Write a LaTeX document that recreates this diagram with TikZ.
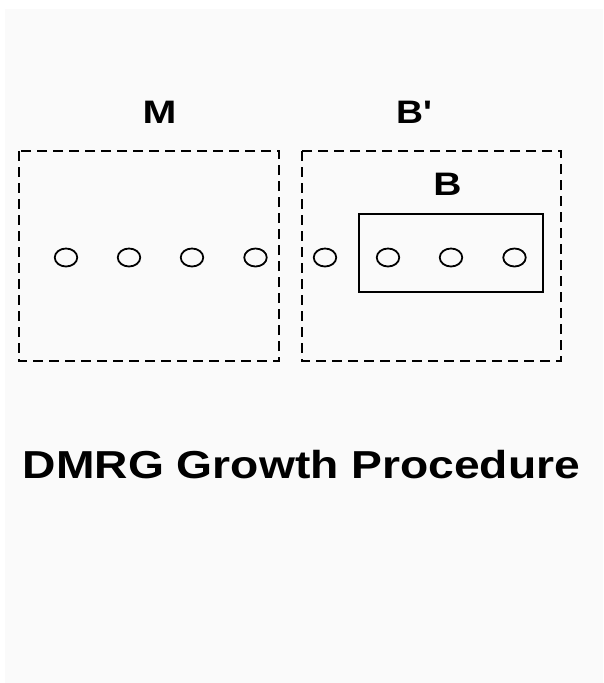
\documentclass[tikz,border=0pt]{standalone}
\usepackage{fontspec}
\setmainfont{Liberation Sans}
\usetikzlibrary{shapes.geometric}
\definecolor{paper}{HTML}{FAFAFA}
\tikzset{
  site/.style={draw, ellipse, line width=1.8pt, minimum width=22.5pt, minimum height=18pt, inner sep=0pt},
  block/.style={draw, line width=1.8pt, dash pattern=on 10pt off 6pt},
  lbl/.style={anchor=base, inner sep=0pt, font=\bfseries\fontsize{32.5}{34}\selectfont},
}
\newcommand{\widen}[2]{\scalebox{#1}[1]{#2}}
\begin{document}
\begin{tikzpicture}[x=1pt,y=-1pt]
\useasboundingbox (0,0) rectangle (603,683);
\fill[paper] (5,9) rectangle (603,683);

% system and environment blocks
\draw [block] (19,151) rectangle (279,361);
\draw [block] (302,151) rectangle (561,361);
\draw [line width=1.8pt] (359,214) rectangle (543,292);

\node [lbl] (lblM) at (159.5,123.5) {\widen{1.25}{M}};
\node [lbl] (lblBp) at (414,123.5) {\widen{1.15}{B\textquotesingle}};
\node [lbl] (lblB) at (447.5,195.5) {\widen{1.2}{B}};

% sites
\node [site] (s1) at (66,257.5) {};
\node [site] (s2) at (129,257.5) {};
\node [site] (s3) at (192,257.5) {};
\node [site] (s4) at (255.5,257.5) {};
\node [site] (s5) at (325,257.5) {};
\node [site] (s6) at (388,257.5) {};
\node [site] (s7) at (451,257.5) {};
\node [site] (s8) at (514.5,257.5) {};

\node [anchor=base, inner sep=0pt, font=\bfseries\fontsize{39}{42}\selectfont] (title) at (301.5,478.5) {\widen{1.185}{DMRG Growth Procedure}};
\end{tikzpicture}
\end{document}
